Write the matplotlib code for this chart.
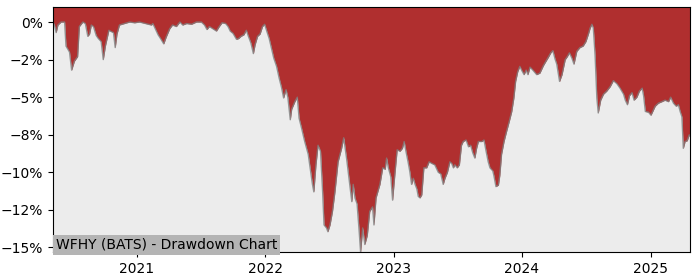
import pandas as pd
import matplotlib
matplotlib.use("Agg")
import matplotlib.pyplot as plt
import matplotlib.dates as mdates
from matplotlib.ticker import MultipleLocator, PercentFormatter

TITLE = "WFHY (BATS) - Drawdown Chart"

# drawdown trace (percent)
dates = [
    "2020-05-07", "2020-05-11", "2020-05-16", "2020-05-21", "2020-05-30",
    "2020-06-09", "2020-06-13", "2020-06-23", "2020-06-29", "2020-07-07",
    "2020-07-16", "2020-07-21", "2020-07-31", "2020-08-07", "2020-08-14",
    "2020-08-19", "2020-08-24", "2020-08-30", "2020-09-07", "2020-09-13",
    "2020-09-21", "2020-09-27", "2020-10-03", "2020-10-13", "2020-10-21",
    "2020-10-26", "2020-10-31", "2020-11-05", "2020-11-12", "2020-11-26",
    "2020-12-11", "2020-12-25", "2021-01-08", "2021-01-25", "2021-02-11",
    "2021-02-15", "2021-02-23", "2021-03-02", "2021-03-09", "2021-03-18",
    "2021-03-25", "2021-04-04", "2021-04-12", "2021-04-23", "2021-05-03",
    "2021-05-11", "2021-05-22", "2021-06-05", "2021-06-19", "2021-07-03",
    "2021-07-12", "2021-07-19", "2021-07-26", "2021-08-05", "2021-08-15",
    "2021-08-23", "2021-08-31", "2021-09-10", "2021-09-17", "2021-09-23",
    "2021-10-01", "2021-10-11", "2021-10-17", "2021-10-24", "2021-11-01",
    "2021-11-08", "2021-11-13", "2021-11-21", "2021-11-28", "2021-12-03",
    "2021-12-10", "2021-12-17", "2021-12-24", "2021-12-30", "2022-01-05",
    "2022-01-12", "2022-01-18", "2022-01-25", "2022-02-02", "2022-02-09",
    "2022-02-16", "2022-02-22", "2022-03-01", "2022-03-06", "2022-03-13",
    "2022-03-17", "2022-03-26", "2022-04-02", "2022-04-07", "2022-04-14",
    "2022-04-23", "2022-05-03", "2022-05-10", "2022-05-15", "2022-05-19",
    "2022-05-25", "2022-05-31", "2022-06-07", "2022-06-13", "2022-06-17",
    "2022-06-24", "2022-06-28", "2022-07-04", "2022-07-11", "2022-07-18",
    "2022-07-27", "2022-08-06", "2022-08-12", "2022-08-20", "2022-08-27",
    "2022-09-04", "2022-09-08", "2022-09-13", "2022-09-19", "2022-09-25",
    "2022-09-29", "2022-10-05", "2022-10-11", "2022-10-18", "2022-10-25",
    "2022-11-02", "2022-11-06", "2022-11-12", "2022-11-18", "2022-11-23",
    "2022-12-01", "2022-12-08", "2022-12-12", "2022-12-17", "2022-12-24",
    "2022-12-29", "2023-01-05", "2023-01-11", "2023-01-19", "2023-01-26",
    "2023-01-31", "2023-02-05", "2023-02-11", "2023-02-16", "2023-02-21",
    "2023-02-26", "2023-03-03", "2023-03-08", "2023-03-12", "2023-03-17",
    "2023-03-22", "2023-03-28", "2023-04-05", "2023-04-12", "2023-04-19",
    "2023-04-28", "2023-05-08", "2023-05-15", "2023-05-22", "2023-05-27",
    "2023-06-03", "2023-06-10", "2023-06-15", "2023-06-20", "2023-06-24",
    "2023-07-01", "2023-07-07", "2023-07-13", "2023-07-18", "2023-07-26",
    "2023-08-02", "2023-08-08", "2023-08-14", "2023-08-20", "2023-08-25",
    "2023-08-30", "2023-09-09", "2023-09-15", "2023-09-21", "2023-09-27",
    "2023-10-02", "2023-10-10", "2023-10-13", "2023-10-19", "2023-10-26",
    "2023-10-30", "2023-11-04", "2023-11-11", "2023-11-18", "2023-11-26",
    "2023-12-03", "2023-12-09", "2023-12-14", "2023-12-20", "2023-12-26",
    "2023-12-31", "2024-01-07", "2024-01-13", "2024-01-18", "2024-01-24",
    "2024-02-01", "2024-02-12", "2024-02-21", "2024-03-02", "2024-03-07",
    "2024-03-16", "2024-03-23", "2024-03-29", "2024-04-04", "2024-04-09",
    "2024-04-17", "2024-04-24", "2024-05-03", "2024-05-09", "2024-05-15",
    "2024-05-22", "2024-05-28", "2024-06-05", "2024-06-14", "2024-06-23",
    "2024-07-01", "2024-07-08", "2024-07-13", "2024-07-18", "2024-07-22",
    "2024-07-27", "2024-08-01", "2024-08-05", "2024-08-12", "2024-08-20",
    "2024-08-29", "2024-09-08", "2024-09-17", "2024-09-27", "2024-10-06",
    "2024-10-16", "2024-10-21", "2024-10-27", "2024-11-02", "2024-11-09",
    "2024-11-15", "2024-11-23", "2024-11-30", "2024-12-08", "2024-12-12",
    "2024-12-17", "2024-12-26", "2025-01-02", "2025-01-08", "2025-01-14",
    "2025-01-23", "2025-02-02", "2025-02-11", "2025-02-21", "2025-02-27",
    "2025-03-07", "2025-03-15", "2025-03-21", "2025-03-26", "2025-03-31",
    "2025-04-04", "2025-04-09", "2025-04-15", "2025-04-21", "2025-04-24",
]

drawdown = [
    0.0, -0.2, -0.7, -0.2, 0.0,
    0.0, -1.6, -2.0, -3.2, -2.6,
    -2.3, -0.3, 0.0, -0.1, -0.95,
    -0.8, -0.2, -0.3, -0.9, -1.1,
    -1.3, -2.5, -1.6, -0.55, -0.65,
    -0.7, -1.7, -0.8, -0.2, -0.1,
    0.0, -0.05, 0.0, -0.1, -0.2,
    -0.1, -0.5, -0.85, -1.1, -1.45,
    -1.0, -0.45, -0.2, -0.3, 0.0,
    -0.2, -0.1, -0.15, 0.0, 0.0,
    -0.2, -0.5, -0.3, -0.45, -0.6,
    -0.3, -0.05, -0.1, -0.3, -0.6,
    -0.75, -1.15, -1.1, -0.95, -0.85,
    -0.55, -0.9, -1.4, -2.1, -1.5,
    -0.95, -0.8, -0.3, -0.15, -0.6,
    -1.1, -1.7, -2.4, -2.95, -3.7,
    -4.35, -5.05, -4.5, -5.0, -6.5,
    -5.8, -5.3, -5.0, -6.4, -7.05,
    -7.95, -8.8, -9.95, -10.8, -11.3,
    -9.5, -8.2, -8.6, -11.3, -13.5,
    -13.7, -13.95, -13.5, -12.6, -11.3,
    -9.3, -8.4, -7.7, -9.05, -10.4,
    -11.95, -10.8, -11.7, -12.1, -13.95,
    -15.3, -13.7, -14.8, -14.2, -12.6,
    -12.3, -13.5, -11.7, -11.2, -10.8,
    -9.7, -9.8, -9.05, -9.7, -10.3,
    -11.85, -10.0, -8.5, -8.6, -8.4,
    -7.95, -8.6, -9.3, -9.95, -10.8,
    -10.4, -10.8, -11.1, -11.6, -11.7,
    -11.5, -9.7, -9.7, -9.3, -9.4,
    -9.5, -10.0, -10.1, -10.8, -10.4,
    -10.0, -9.3, -9.4, -9.7, -9.5,
    -9.7, -9.5, -8.2, -7.95, -7.85,
    -8.3, -8.2, -8.7, -9.05, -8.4,
    -7.95, -7.95, -7.85, -8.6, -9.3,
    -9.7, -9.9, -10.2, -10.95, -10.85,
    -10.2, -8.8, -7.95, -7.3, -6.6,
    -5.95, -5.05, -3.95, -3.3, -2.95,
    -3.2, -3.5, -3.2, -3.5, -3.0,
    -3.2, -3.5, -3.4, -2.9, -2.7,
    -2.35, -2.05, -1.9, -2.45, -2.8,
    -3.95, -3.5, -2.5, -2.3, -2.05,
    -2.4, -2.8, -1.95, -1.7, -1.6,
    -1.3, -0.8, -0.4, -0.15, -0.4,
    -2.2, -5.05, -6.05, -5.2, -4.8,
    -4.6, -4.3, -3.9, -4.1, -4.4,
    -4.8, -5.2, -5.5, -4.9, -4.7,
    -5.2, -5.0, -4.6, -4.4, -4.9,
    -5.95, -6.0, -6.2, -5.9, -5.6,
    -5.4, -5.3, -5.2, -5.3, -5.0,
    -5.4, -5.6, -5.5, -5.95, -6.3,
    -8.4, -7.95, -7.9, -7.5, -7.6,
]

x = pd.to_datetime(dates)
top = 1.0

fig = plt.figure(figsize=(7, 2.8), dpi=100)
ax = fig.add_axes([0.0757, 0.1, 0.9105, 0.875])
ax.set_facecolor("#ececec")

ax.fill_between(x, drawdown, top, color="#b02f2f", linewidth=0)
ax.plot(x, drawdown, color="grey", lw=1, alpha=0.8)

ax.set_xlim(x[0], x[-1])
ax.set_ylim(min(drawdown), top)

ax.yaxis.set_major_locator(MultipleLocator(2.5))
ax.yaxis.set_major_formatter(PercentFormatter(decimals=0))
ax.xaxis.set_major_locator(mdates.YearLocator())
ax.xaxis.set_major_formatter(mdates.DateFormatter("%Y"))

ax.text(0.004, 0.0, TITLE, transform=ax.transAxes, fontsize=10,
        ha="left", va="bottom",
        bbox=dict(facecolor="#b4b4b4", edgecolor="none", pad=2))

fig.savefig("out.png", dpi=100)
